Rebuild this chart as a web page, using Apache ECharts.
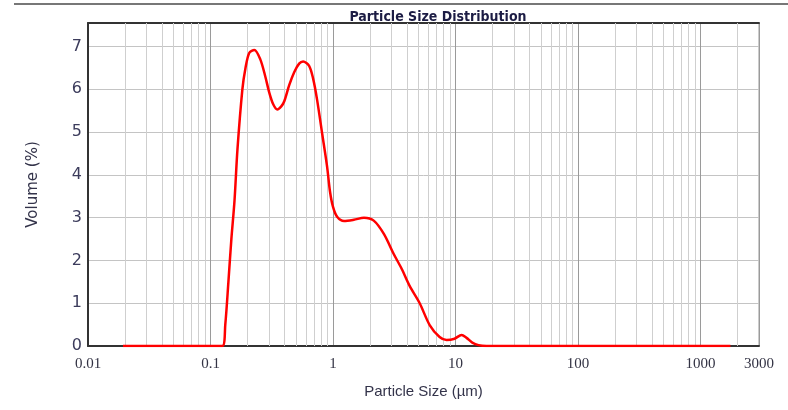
<!DOCTYPE html>
<html>
<head>
<meta charset="utf-8">
<script src="https://cdn.jsdelivr.net/npm/echarts@6/dist/echarts.min.js"></script>
<style>
html, body { margin: 0; padding: 0; background: #fff; }
#chart { width: 788px; height: 410px; }
</style>
</head>
<body>
<div id="chart"></div>
<script>
// particle size (um) and volume (%)
var sizes = [0.0193, 0.05, 0.1, 0.125, 0.132, 0.140, 0.148, 0.157, 0.166, 0.182, 0.193, 0.207, 0.228, 0.255, 0.280,
    0.302, 0.325, 0.351, 0.378, 0.400, 0.439, 0.482, 0.529, 0.570, 0.638, 0.688, 0.741, 0.814, 0.894, 0.946,
    1.0, 1.08, 1.23, 1.48, 1.79, 2.15, 2.60, 3.13, 3.64, 4.23, 5.10, 6.15, 7.41, 8.45, 9.82, 11.2, 12.3, 13.7,
    15.4, 17.9, 100, 1000, 1754];
var volumes = [0, 0, 0, 0, 0.5, 1.5, 2.5, 3.4, 4.6, 6.0, 6.5, 6.85, 6.92, 6.70, 6.3,
    5.92, 5.65, 5.53, 5.6, 5.72, 6.1, 6.4, 6.6, 6.65, 6.55, 6.25, 5.76, 4.98, 4.2, 3.6,
    3.25, 3.02, 2.92, 2.95, 3.0, 2.93, 2.62, 2.15, 1.8, 1.4, 1.0, 0.49, 0.21, 0.14, 0.17, 0.26, 0.19, 0.08,
    0.02, 0, 0, 0, 0];
var yTicks = [0, 1, 2, 3, 4, 5, 6, 7];
var xTickLabels = ['0.01', '0.1', '1', '10', '100', '1000', '3000'];

var pts = [];
for (var i = 0; i < sizes.length; i++) {
    pts.push([sizes[i], volumes[i]]);
}
// minor log grid lines 2..9 in every decade
var minorLines = [];
for (var d = 0.01; d < 2000; d *= 10) {
    for (var k = 2; k <= 9; k++) {
        var v = k * d;
        if (v < 3000) minorLines.push({ xAxis: v });
    }
}

var myChart = echarts.init(document.getElementById('chart'));
var option = {
    backgroundColor: '#fff',
    animation: false,
    title: {
        text: 'Particle Size Distribution',
        left: 433,
        top: 5,
        textAlign: 'center',
        textStyle: {
            fontFamily: 'DejaVu Sans Condensed',
            fontSize: 14,
            fontWeight: 'bold',
            color: '#1c1c44'
        }
    },
    graphic: [{
        type: 'line',
        shape: { x1: 14, y1: 4, x2: 788, y2: 4 },
        style: { stroke: '#777', lineWidth: 2 },
        silent: true
    }],
    grid: {
        left: 88,
        top: 23,
        right: 29,
        bottom: 64,
        show: true,
        borderColor: '#999',
        borderWidth: 1
    },
    xAxis: [{
        type: 'log',
        logBase: 10,
        min: 0.01,
        max: 3000,
        name: 'Particle Size (µm)',
        nameLocation: 'middle',
        nameGap: 38,
        nameTextStyle: {
            fontFamily: 'Liberation Sans',
            fontSize: 15,
            color: '#33334a'
        },
        axisLine: { show: true, lineStyle: { color: '#333', width: 2 } },
        axisTick: { show: false },
        axisLabel: {
            fontFamily: 'Liberation Serif',
            fontSize: 15,
            color: '#333344',
            margin: 11,
            showMinLabel: true,
            showMaxLabel: true,
            formatter: function (val) {
                var s = String(Math.round(val * 100) / 100);
                return xTickLabels.indexOf(s) >= 0 ? s : '';
            }
        },
        splitLine: { show: true, lineStyle: { color: '#9a9a9a', width: 1 } }
    }, {
        type: 'log',
        logBase: 10,
        min: 0.01,
        max: 3000,
        position: 'top',
        axisLine: { show: true, lineStyle: { color: '#333', width: 2 } },
        axisTick: { show: false },
        axisLabel: { show: false },
        splitLine: { show: false }
    }],
    yAxis: {
        type: 'value',
        min: 0,
        max: 7.55,
        interval: 1,
        name: 'Volume (%)',
        nameLocation: 'middle',
        nameGap: 47,
        nameTextStyle: {
            fontFamily: 'DejaVu Sans',
            fontSize: 15,
            color: '#33334a'
        },
        axisLine: { show: true, lineStyle: { color: '#333', width: 2 } },
        axisTick: { show: false },
        axisLabel: {
            fontFamily: 'DejaVu Sans',
            fontSize: 16,
            color: '#3c3c5c',
            margin: 6,
            formatter: function (val) {
                return yTicks.indexOf(val) >= 0 ? String(val) : '';
            }
        },
        splitLine: { show: true, lineStyle: { color: '#c4c4c4', width: 1 } }
    },
    series: [{
        type: 'line',
        data: pts,
        showSymbol: false,
        smooth: 0.3,
        lineStyle: { color: '#ff0000', width: 2.5 },
        z: 5,
        markLine: {
            silent: true,
            symbol: 'none',
            label: { show: false },
            lineStyle: { color: '#cfcfcf', width: 1, type: 'solid' },
            data: minorLines,
            z: 1
        }
    }]
};
myChart.setOption(option);
</script>
</body>
</html>
